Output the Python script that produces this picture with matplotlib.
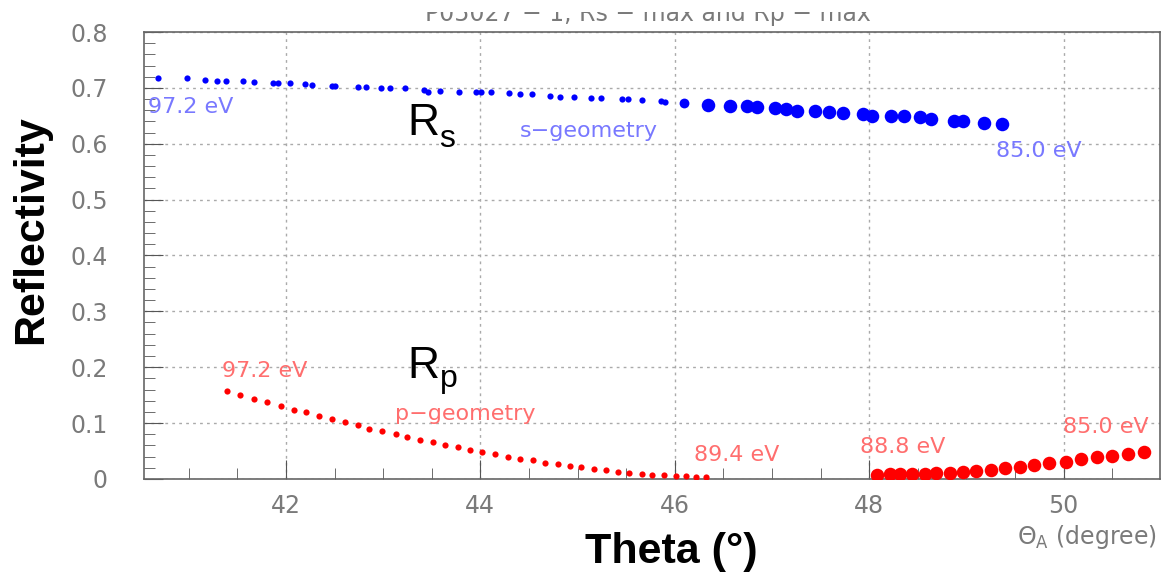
import numpy as np
import matplotlib
matplotlib.use("Agg")
import matplotlib.pyplot as plt
from matplotlib.patches import Rectangle
from matplotlib.ticker import MultipleLocator

# s-geometry (blue), fine steps then coarse steps
rs_theta_fine = [40.68, 40.98, 41.17, 41.29, 41.38, 41.56, 41.67, 41.87, 41.92, 42.04,
                 42.20, 42.27, 42.47, 42.51, 42.74, 42.82, 42.98, 43.07, 43.23, 43.42,
                 43.46, 43.59, 43.78, 43.96, 44.01, 44.11, 44.29, 44.41, 44.53, 44.72,
                 44.82, 44.96, 45.14, 45.24, 45.46, 45.52, 45.66, 45.86, 45.90]
rs_fine = [0.717, 0.717, 0.714, 0.713, 0.712, 0.712, 0.711, 0.709, 0.709, 0.708,
           0.707, 0.705, 0.704, 0.704, 0.701, 0.701, 0.700, 0.699, 0.699, 0.697,
           0.693, 0.695, 0.693, 0.692, 0.692, 0.692, 0.690, 0.689, 0.689, 0.686,
           0.684, 0.683, 0.681, 0.681, 0.680, 0.680, 0.678, 0.677, 0.675]
rs_theta_mid = [46.10]
rs_mid = [0.673]
rs_theta_coarse = [46.34, 46.57, 46.74, 46.85, 47.03, 47.14, 47.26, 47.44, 47.59, 47.73,
                   47.94, 48.03, 48.22, 48.36, 48.52, 48.64, 48.87, 48.97, 49.18, 49.37]
rs_coarse = [0.670, 0.668, 0.667, 0.665, 0.664, 0.662, 0.659, 0.659, 0.656, 0.655,
             0.653, 0.650, 0.650, 0.649, 0.647, 0.644, 0.641, 0.640, 0.637, 0.635]

# p-geometry (red)
rp_theta_fine = [41.39, 41.53, 41.67, 41.81, 41.95, 42.08, 42.21, 42.34, 42.47, 42.61,
                 42.74, 42.86, 42.99, 43.13, 43.25, 43.38, 43.51, 43.64, 43.77, 43.89,
                 44.02, 44.15, 44.28, 44.41, 44.54, 44.67, 44.80, 44.92, 45.04, 45.17,
                 45.29, 45.42, 45.53, 45.66, 45.77, 45.89, 46.01, 46.12, 46.22, 46.32]
rp_fine = [0.157, 0.150, 0.143, 0.137, 0.130, 0.124, 0.119, 0.112, 0.107, 0.101,
           0.096, 0.090, 0.085, 0.080, 0.075, 0.070, 0.066, 0.061, 0.057, 0.052,
           0.048, 0.044, 0.040, 0.036, 0.033, 0.029, 0.026, 0.023, 0.021, 0.018,
           0.016, 0.013, 0.011, 0.0095, 0.0077, 0.0066, 0.0054, 0.0048, 0.0041, 0.003]
rp_theta_coarse = [48.08, 48.21, 48.32, 48.44, 48.57, 48.69, 48.83, 48.97, 49.10, 49.25,
                   49.40, 49.55, 49.70, 49.85, 50.02, 50.18, 50.34, 50.50, 50.66, 50.83]
rp_coarse = [0.007, 0.008, 0.008, 0.008, 0.009, 0.010, 0.011, 0.013, 0.014, 0.016,
             0.019, 0.022, 0.025, 0.028, 0.031, 0.035, 0.039, 0.041, 0.045, 0.049]

x_ticks = [42, 44, 46, 48, 50]
y_ticks = [0, 0.1, 0.2, 0.3, 0.4, 0.5, 0.6, 0.7, 0.8]
y_tick_labels = ["0", "0.1", "0.2", "0.3", "0.4", "0.5", "0.6", "0.7", "0.8"]

gray = "#7a7a7a"
light_blue = "#7878ff"
light_red = "#ff6e6e"

plt.rcParams['font.family'] = ['DejaVu Sans']

fig = plt.figure(figsize=(11.61, 5.77), dpi=100)
ax = fig.add_axes([0.124, 0.170, 0.875, 0.7745])

ax.scatter(rs_theta_fine, rs_fine, s=20, color="#0000ff", linewidths=0, zorder=3)
ax.scatter(rs_theta_mid, rs_mid, s=50, color="#0000ff", linewidths=0, zorder=3)
ax.scatter(rs_theta_coarse, rs_coarse, s=95, color="#0000ff", linewidths=0, zorder=3)
ax.scatter(rp_theta_fine, rp_fine, s=20, color="#ff0000", linewidths=0, zorder=3)
ax.scatter(rp_theta_coarse, rp_coarse, s=95, color="#ff0000", linewidths=0, zorder=3)

ax.set_xlim(40.54, 50.99)
ax.set_ylim(0, 0.8)
ax.set_xticks(x_ticks)
ax.set_yticks(y_ticks)
ax.set_yticklabels(y_tick_labels)
ax.xaxis.set_minor_locator(MultipleLocator(0.5))
ax.yaxis.set_minor_locator(MultipleLocator(0.02))
ax.tick_params(which="both", direction="in", colors="#555555", labelcolor=gray,
               labelsize=17, top=False, right=False)
ax.tick_params(axis="x", which="major", length=14, pad=11)
ax.tick_params(axis="y", which="major", length=14, pad=26)
ax.tick_params(which="minor", length=8)
ax.grid(True, which="major", color="#aaaaaa", linestyle=(0, (2, 3)), linewidth=1)
for sp in ax.spines.values():
    sp.set_color("#666666")
    sp.set_linewidth(1.2)

# annotations
ax.text(40.58, 0.665, "97.2 eV", color=light_blue, fontsize=16, va="center")
ax.text(44.41, 0.622, "s\u2212geometry", color=light_blue, fontsize=16, va="center")
ax.text(49.30, 0.587, "85.0 eV", color=light_blue, fontsize=16, va="center")
ax.text(41.34, 0.193, "97.2 eV", color=light_red, fontsize=16, va="center")
ax.text(43.12, 0.117, "p\u2212geometry", color=light_red, fontsize=16, va="center")
ax.text(46.20, 0.043, "89.4 eV", color=light_red, fontsize=16, va="center")
ax.text(47.91, 0.057, "88.8 eV", color=light_red, fontsize=16, va="center")
ax.text(49.99, 0.093, "85.0 eV", color=light_red, fontsize=16, va="center")

# R_s and R_p labels
ax.text(43.25, 0.616, "R", fontsize=32, family="Liberation Sans", va="baseline")
ax.text(43.58, 0.594, "s", fontsize=23, family="Liberation Sans", va="baseline")
ax.text(43.25, 0.181, "R", fontsize=32, family="Liberation Sans", va="baseline")
ax.text(43.59, 0.165, "p", fontsize=23, family="Liberation Sans", va="baseline")

# axis titles
fig.text(0.027, 0.602, "Reflectivity", rotation=90, fontsize=31, fontweight="bold",
         family="Liberation Sans", ha="center", va="center")
fig.text(0.578, 0.043, "Theta (\u00b0)", fontsize=31, fontweight="bold",
         family="Liberation Sans", ha="center", va="center")
fig.text(0.9966, 0.069, r"$\Theta_{\mathrm{A}}$ (degree)", color=gray, fontsize=17,
         ha="right", va="center")

# partly hidden title at the top
fig.text(0.558, 1 - 21 / 577, "P05027 \u2212 1, Rs \u2212 max and Rp \u2212 max", color=gray,
         fontsize=17, ha="center", va="baseline")
fig.add_artist(Rectangle((0, 1 - 12 / 577), 1, 12 / 577, transform=fig.transFigure,
                         facecolor="white", edgecolor="none", zorder=10))

fig.savefig("out.png", dpi=100)
